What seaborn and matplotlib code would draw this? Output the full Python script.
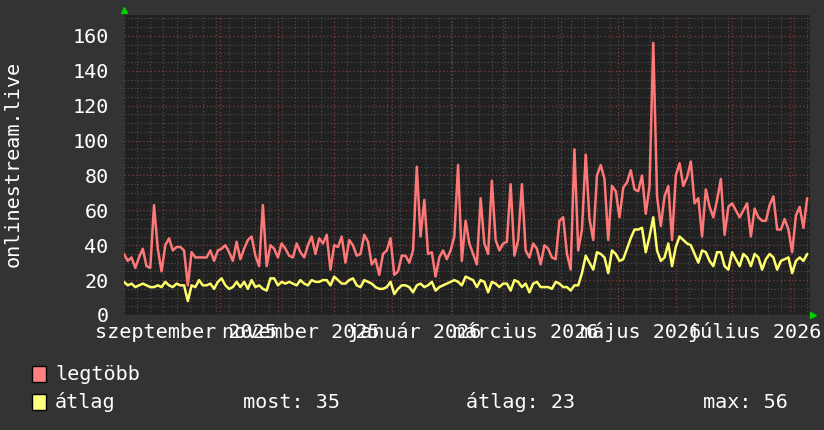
import matplotlib
matplotlib.use("Agg")
import pandas as pd
import matplotlib.pyplot as plt
import matplotlib.dates as mdates
from matplotlib.ticker import MultipleLocator, NullFormatter
from matplotlib.patches import Rectangle
import seaborn as sns

# one sample every 2 days, starting Monday 2025-08-11
start_day = "2025-08-11"

legtobb = [
    35, 31, 33, 27, 33, 38, 28, 27, 63, 38,
    25, 40, 44, 37, 39, 39, 37, 17, 36, 33,
    33, 33, 33, 37, 31, 37, 38, 40, 36, 31,
    42, 32, 38, 43, 45, 34, 28, 63, 28, 40,
    38, 33, 41, 38, 34, 33, 41, 36, 33, 40,
    45, 35, 44, 41, 46, 26, 40, 39, 45, 30,
    43, 40,
    34, 35, 46, 42, 29, 32, 23, 35, 37, 44,
    23, 25, 34, 34, 30, 37, 85, 45, 66, 35,
    36, 22, 33, 37, 32, 37, 45, 86, 31, 54,
    41, 35, 29, 67, 41, 35, 77, 43, 37, 41,
    42, 75, 34, 43, 75, 37, 33, 41, 38, 29,
    40, 38, 33, 32, 54, 56, 35, 26, 95, 37,
    49, 92,
    55, 43, 80, 86, 78, 43, 74, 71, 56, 73,
    76, 83, 72, 71, 80, 58, 74, 156, 68, 51,
    68, 74, 43, 80, 87, 74, 79, 88, 64, 67,
    45, 72, 62, 56, 66, 78, 46, 62, 64, 60,
    56, 60, 64, 45, 61, 56, 54, 54, 63, 68,
    49, 49, 55, 49, 36, 57, 62, 50, 67,
]

atlag = [
    19, 17, 18, 16, 17, 18, 17, 16, 16, 17,
    16, 19, 17, 16, 18, 17, 17, 8, 17, 16,
    20, 17, 17, 18, 15, 19, 21, 17, 15, 16,
    19, 16, 19, 15, 20, 16, 17, 15, 14, 21,
    21, 17, 19, 18, 19, 18, 17, 20, 18, 17,
    20, 19, 19, 20, 20, 17, 22, 20, 18, 18,
    20, 21,
    17, 16, 20, 19, 18, 16, 15, 15, 16, 19,
    12, 15, 17, 17, 16, 13, 17, 18, 16, 17,
    19, 14, 16, 17, 18, 19, 20, 19, 17, 22,
    21, 20, 16, 20, 19, 13, 19, 18, 16, 18,
    18, 14, 20, 19, 16, 18, 13, 18, 19, 16,
    16, 16, 15, 19, 18, 16, 16, 14, 17, 17,
    24, 34,
    30, 26, 36, 35, 33, 24, 37, 35, 31, 32,
    38, 44, 49, 49, 50, 36, 45, 56, 37, 31,
    33, 41, 28, 39, 45, 43, 41, 40, 35, 30,
    37, 36, 31, 28, 36, 36, 28, 26, 36, 32,
    28, 35, 33, 28, 35, 33, 26, 32, 35, 33,
    26, 31, 32, 33, 24, 31, 33, 31, 35,
]

month_labels = ["szeptember 2025", "november 2025", "január 2026",
                "március 2026", "május 2026", "július 2026"]
label_months = ["2025-09-01", "2025-11-01", "2026-01-01",
                "2026-03-01", "2026-05-01", "2026-07-01"]

sns.set_style("dark")
plt.rcParams["font.family"] = ["DejaVu Sans Mono"]

BG = "#333333"
PLOT_BG = "#212121"
RED = "#ff7878"
YELLOW = "#ffff6c"
TXT = "#ffffff"
FS = 14.5

df = pd.DataFrame({
    "datum": pd.date_range(start_day, periods=len(legtobb), freq="2D"),
    "legtöbb": legtobb,
    "átlag": atlag,
})

fig = plt.figure(figsize=(8.24, 4.30), dpi=100, facecolor=BG)
ax = fig.add_axes([124 / 824, 115 / 430, 686 / 824, 300 / 430])
ax.set_facecolor(PLOT_BG)

# grid first so the lines sit on top
ax.set_axisbelow(True)
ax.xaxis.set_major_locator(mdates.MonthLocator())
ax.xaxis.set_minor_locator(mdates.WeekdayLocator(byweekday=mdates.MO))
ax.xaxis.set_major_formatter(NullFormatter())
ax.yaxis.set_major_locator(MultipleLocator(20))
ax.yaxis.set_minor_locator(MultipleLocator(5))
ax.grid(which="minor", color="#505050", linestyle=(0, (1, 2)), linewidth=0.8)
ax.grid(which="major", color="#823c3c", linestyle=(0, (1, 2)), linewidth=0.9)

sns.lineplot(data=df, x="datum", y="legtöbb", ax=ax, color=RED, linewidth=1.8)
sns.lineplot(data=df, x="datum", y="átlag", ax=ax, color=YELLOW, linewidth=1.8)

ax.set_xlim(pd.Timestamp("2025-08-11"), pd.Timestamp("2026-08-11 12:00"))
ax.set_ylim(0, 172)
ax.set_xlabel("")
ax.set_ylabel("")
for s in ax.spines.values():
    s.set_visible(False)

ax.tick_params(axis="both", which="both", length=0)
ax.tick_params(axis="y", labelsize=FS, labelcolor=TXT, pad=11)

# month labels, every second month
for lab, m in zip(month_labels, label_months):
    ax.text(pd.Timestamp(m) + pd.Timedelta(days=12), -0.025, lab,
            transform=ax.get_xaxis_transform(), ha="center", va="top",
            color=TXT, fontsize=FS, clip_on=False)

# small green arrows at the axis ends
ax.plot([0], [1.018], marker="^", color="#00d000", markersize=5,
        transform=ax.transAxes, clip_on=False)
ax.plot([1.004], [0], marker=">", color="#00d000", markersize=5,
        transform=ax.transAxes, clip_on=False)

fig.text(13 / 824, 1 - 164 / 430, "onlinestream.live", rotation=90,
         ha="center", va="center", color=TXT, fontsize=FS)

# legend rows
fig.patches.append(Rectangle((32 / 824, 1 - 382 / 430), 14 / 824, 16 / 430,
                             transform=fig.transFigure, facecolor="#ff8080",
                             edgecolor="black", linewidth=1))
fig.patches.append(Rectangle((32 / 824, 1 - 410 / 430), 14 / 824, 16 / 430,
                             transform=fig.transFigure, facecolor="#ffff80",
                             edgecolor="black", linewidth=1))
fig.text(55 / 824, 1 - 374 / 430, "legtöbb", ha="left", va="center",
         color=TXT, fontsize=FS)
row2 = 1 - 402 / 430
fig.text(55 / 824, row2, "átlag", ha="left", va="center", color=TXT, fontsize=FS)
fig.text(243 / 824, row2, "most: 35", ha="left", va="center", color=TXT, fontsize=FS)
fig.text(466 / 824, row2, "átlag: 23", ha="left", va="center", color=TXT, fontsize=FS)
fig.text(703 / 824, row2, "max: 56", ha="left", va="center", color=TXT, fontsize=FS)

fig.savefig("out.png", dpi=100, facecolor=BG)
